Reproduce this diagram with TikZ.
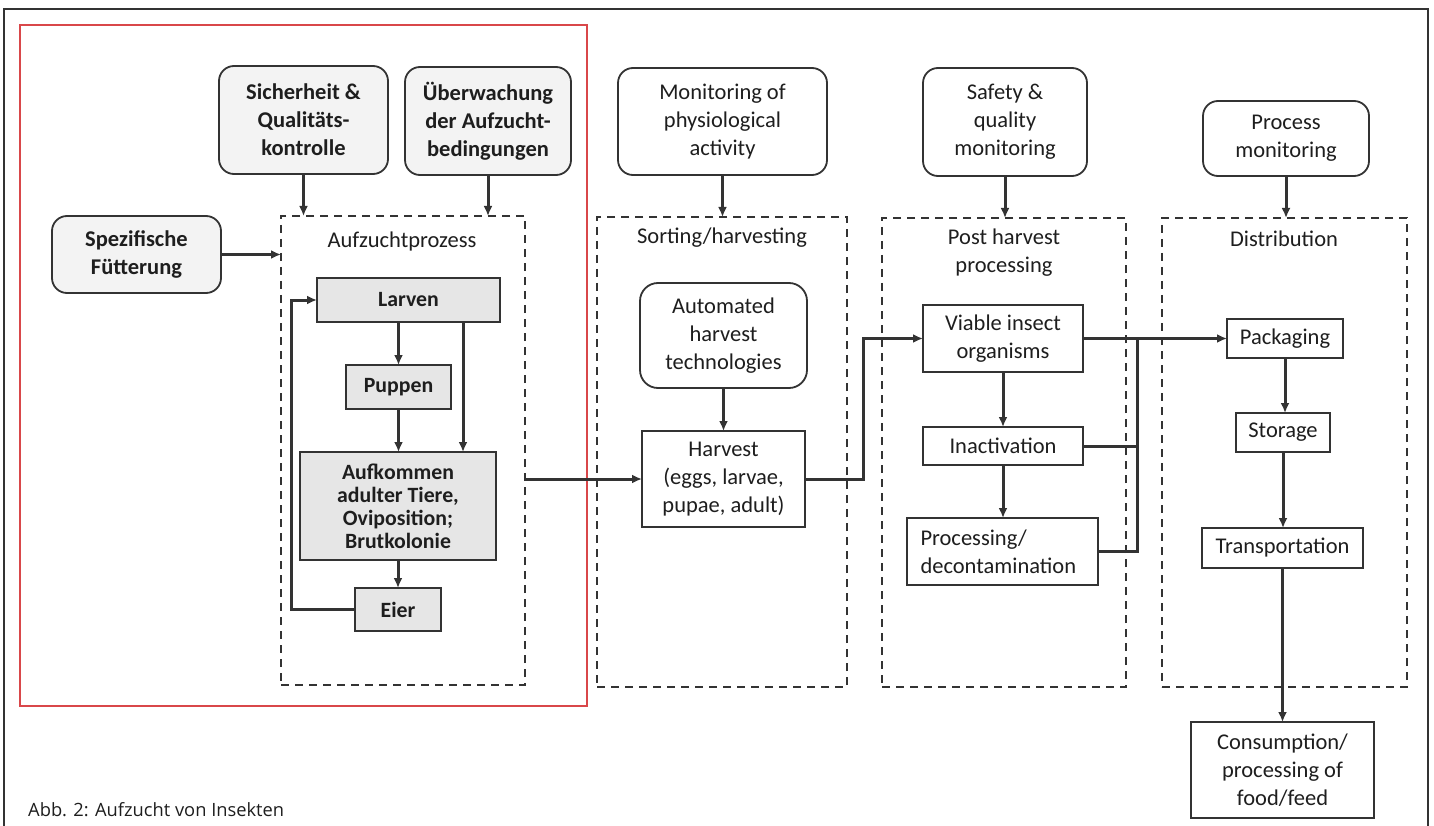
\documentclass[tikz,border=0pt]{standalone}
\usepackage{fontspec}
\setmainfont{Carlito}
\newfontfamily\capfont{Open Sans}
\usetikzlibrary{arrows.meta,calc}
\definecolor{lc}{HTML}{333333}
\definecolor{redc}{HTML}{D9474A}
\definecolor{tc}{HTML}{1E1E1E}
\definecolor{gfill}{HTML}{E6E6E6}
\definecolor{lfill}{HTML}{F3F3F3}
\newcommand{\bx}[7]{\node[#2, minimum width={(#5-#3)*1pt}, minimum height={(#6-#4)*1pt}] (#1) at ({(#3+#5)/2},{(#4+#6)/2}) {#7};}
\tikzset{
  ln/.style={draw=lc, line width=1.8pt, text=tc, inner sep=0pt, outer sep=0pt},
  rbox/.style={ln, rounded corners=15pt, align=center, font=\fontsize{22.5}{28}\selectfont},
  lbox/.style={rbox, fill=lfill, font=\bfseries\fontsize{22.5}{28}\selectfont},
  sbox/.style={ln, align=center, font=\fontsize{22.5}{28}\selectfont},
  gbox/.style={ln, fill=gfill, align=center, font=\bfseries\fontsize{21.8}{23}\selectfont},
  grp/.style={draw=lc, line width=2.2pt, dash pattern=on 8pt off 6pt, inner sep=0pt, outer sep=0pt},
  lab/.style={text=tc, inner sep=0pt, align=center, font=\fontsize{22.5}{28}\selectfont},
  con/.style={draw=lc, line width=3pt},
  arr/.style={con, -{Latex[length=10pt,width=9pt]}},
}
\begin{document}
\begin{tikzpicture}[x=1pt,y=-1pt]
\useasboundingbox (0,0) rectangle (1434,826);
\fill[white] (0,0) rectangle (1434,826);
% outer frame
\draw[draw=lc, line width=1.6pt] (4,830) -- (4,9) -- (1428,9) -- (1428,830);
% red highlight frame
\bx{red}{draw=redc, line width=2.8pt, inner sep=0pt}{20}{25}{587}{706}{}
% left part
\bx{sich}{lbox}{219}{66}{388}{174}{Sicherheit \&\\Qualitäts-\\kontrolle}
\bx{ueb}{lbox}{405}{67}{571}{175}{Überwachung\\der Aufzucht-\\bedingungen}
\bx{spez}{lbox}{52}{216}{221}{293}{Spezifische\\Fütterung}
\bx{aufz}{grp}{281}{216}{525}{685}{}
\node[lab] (aufzlab) at (402,242) {Aufzuchtprozess};
\bx{larven}{gbox}{317}{278}{500}{322}{Larven}
\bx{puppen}{gbox}{346}{365}{451}{409}{Puppen}
\bx{aufk}{gbox}{300}{452}{496}{560}{Aufkommen\\adulter Tiere,\\Oviposition;\\Brutkolonie}
\bx{eier}{gbox}{355}{588}{441}{631}{Eier}
\coordinate (lp) at (291,0);
\coordinate (lv) at (463,0);
% sorting
\bx{mon}{rbox}{618}{68}{827}{175}{Monitoring of\\physiological\\activity}
\bx{sort}{grp}{597}{217}{847}{687}{}
\node[lab] (sortlab) at (722,238) {Sorting/harvesting};
\bx{auto}{rbox, rounded corners=18pt}{640}{283}{807}{388}{Automated\\harvest\\technologies}
\bx{harv}{sbox}{642}{431}{805}{527}{Harvest\\(eggs, larvae,\\pupae, adult)}
\coordinate (j1) at (863,0);
% post harvest
\bx{safe}{rbox}{923}{68}{1087}{176}{Safety \&\\quality\\monitoring}
\bx{post}{grp}{882}{218}{1126}{687}{}
\node[lab] (postlab) at (1004,253) {Post harvest\\processing};
\bx{viab}{sbox}{923}{305}{1083}{372}{Viable insect\\organisms}
\bx{inac}{sbox}{923}{427}{1083}{465}{Inactivation}
\bx{proc}{sbox, align=left, text width=164pt}{907}{518}{1098}{585}{Processing/\\decontamination}
\coordinate (j2) at (1137,0);
% distribution
\bx{pmon}{rbox}{1203}{101}{1369}{176}{Process\\monitoring}
\bx{dist}{grp}{1162}{218}{1407}{687}{}
\node[lab] (distlab) at (1284,239) {Distribution};
\bx{pack}{sbox}{1227}{319}{1343}{358}{Packaging}
\bx{stor}{sbox}{1236}{413}{1330}{452}{Storage}
\bx{trans}{sbox}{1202}{528}{1363}{568}{Transportation}
\bx{cons}{sbox}{1191}{722}{1374}{818}{Consumption/\\processing of\\food/feed}
% caption
\node[anchor=base west, inner sep=0pt, text=tc, font=\capfont\fontsize{18.3}{22}\selectfont] (cap) at (28,816) {Abb. 2: Aufzucht von Insekten};
% connectors left
\draw[arr] (sich.south) -- (sich.south |- aufz.north);
\draw[arr] (ueb.south) -- (ueb.south |- aufz.north);
\draw[arr] (spez.east) -- (spez.east -| aufz.west);
\draw[arr] (puppen.north |- larven.south) -- (puppen.north);
\draw[arr] (lv |- larven.south) -- (lv |- aufk.north);
\draw[arr] (puppen.south) -- (puppen.south |- aufk.north);
\draw[arr] (aufk.south) -- (eier.north);
\draw[arr] (eier.west) -- (eier.west -| lp) -- (lp |- larven.west) -- (larven.west);
\draw[arr] (harv.west -| aufz.east) -- (harv.west);
% sorting connectors
\draw[arr] (mon.south) -- (mon.south |- sort.north);
\draw[arr] (auto.south) -- (auto.south |- harv.north);
\draw[arr] (harv.east) -- (harv.east -| j1) -- (j1 |- viab.west) -- (viab.west);
% post harvest connectors
\draw[arr] (safe.south) -- (safe.south |- post.north);
\draw[arr] (viab.south) -- (viab.south |- inac.north);
\draw[arr] (inac.south) -- (inac.south |- proc.north);
\draw[arr] (viab.east) -- (viab.east -| pack.west);
\draw[con] (inac.east) -- (inac.east -| j2);
\draw[con] (proc.east) -- (proc.east -| j2) -- (j2 |- viab.east);
% distribution connectors
\draw[arr] (pmon.south) -- (pmon.south |- dist.north);
\draw[arr] (pack.south) -- (pack.south |- stor.north);
\draw[arr] (stor.south) -- (stor.south |- trans.north);
\draw[arr] (trans.south) -- (trans.south |- cons.north);
\end{tikzpicture}
\end{document}
